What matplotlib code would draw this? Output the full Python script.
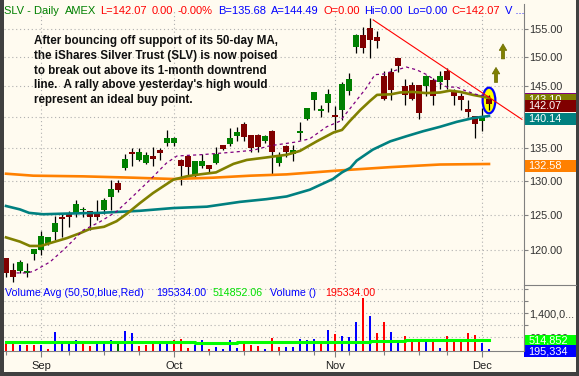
import numpy as np
import pandas as pd
import matplotlib
matplotlib.use('Agg')
import matplotlib.pyplot as plt
from matplotlib.transforms import ScaledTranslation, blended_transform_factory
from matplotlib.patches import Rectangle, Ellipse, Polygon
from matplotlib.lines import Line2D
from matplotlib.ticker import FixedLocator, NullLocator, FixedFormatter

plt.rcParams['font.family'] = ['Liberation Sans', 'DejaVu Sans']

# ---------------- data ----------------
dates = pd.bdate_range('2007-08-27', '2007-12-04', freq='C',
                       holidays=['2007-09-03', '2007-11-22'])

opens = [118.9, 117.3, 117.1, 116.9, 119.5, 120.0, 120.9, 122.5, 124.75, 125.1,
         125.3, 125.7, 125.5, 125.1, 125.7, 127.6, 129.7, 131.9, 134.5, 133.2,
         132.8, 133.8, 134.8, 135.8, 135.9, 133.2, 133.8, 130.7, 132.3, 132.35,
         132.8, 135.5, 135.7, 137.0, 138.9, 137.1, 137.1, 136.2, 137.8, 132.8,
         135.3, 134.1, 137.4, 139.6, 142.8, 140.9, 142.3, 140.3, 141.1, 144.3,
         151.8, 153.9, 155.1, 153.6, 146.8, 147.4, 149.9, 145.1, 145.3, 145.2,
         145.0, 146.1, 145.8, 147.6, 144.2, 143.4, 141.3, 140.1, 139.4, 142.9]
highs = [119.0, 118.2, 118.7, 118.2, 120.2, 122.7, 121.9, 124.8, 125.2, 125.5,
         127.2, 126.1, 125.6, 127.2, 127.4, 130.1, 130.1, 134.1, 135.0, 135.0,
         134.4, 135.2, 135.0, 137.9, 136.8, 133.3, 134.0, 133.1, 134.1, 132.4,
         135.2, 135.6, 138.2, 138.4, 139.1, 137.1, 137.2, 137.1, 137.9, 134.4,
         135.5, 135.5, 139.1, 141.4, 144.1, 141.95, 144.5, 141.8, 145.8, 147.2,
         154.0, 155.4, 157.0, 154.6, 147.6, 148.2, 149.9, 146.3, 145.8, 145.2,
         147.0, 146.4, 147.7, 148.2, 144.6, 143.9, 142.8, 140.1, 141.4, 143.6]
lows = [116.4, 115.7, 116.9, 116.4, 118.7, 119.3, 120.7, 121.4, 121.9, 123.2,
        124.75, 124.7, 122.9, 124.3, 125.2, 125.7, 128.4, 131.6, 132.2, 133.0,
        132.6, 132.2, 133.2, 135.3, 135.3, 129.4, 130.7, 130.6, 131.9, 131.2,
        132.6, 134.8, 135.3, 136.2, 136.2, 134.4, 134.5, 135.8, 130.9, 132.2,
        133.6, 133.0, 136.3, 139.5, 141.1, 140.0, 140.8, 137.9, 139.5, 143.6,
        150.7, 150.7, 149.8, 151.6, 142.8, 142.8, 147.4, 142.0, 142.8, 139.7,
        143.4, 142.0, 144.6, 144.6, 142.0, 141.1, 140.0, 136.7, 137.7, 141.1]
closes = [116.9, 116.4, 118.4, 117.2, 120.2, 122.0, 121.8, 123.8, 124.4, 124.75,
          126.6, 125.9, 124.7, 124.75, 127.2, 128.8, 128.6, 133.3, 134.1, 134.4,
          133.9, 133.3, 134.3, 136.6, 136.6, 132.2, 132.1, 133.05, 133.05, 131.8,
          134.1, 134.9, 136.7, 137.5, 136.8, 135.0, 135.2, 137.0, 134.5, 134.0,
          134.5, 134.8, 137.8, 141.4, 144.1, 141.3, 143.8, 139.9, 145.4, 146.3,
          153.9, 151.6, 153.0, 152.8, 142.9, 144.4, 148.5, 143.5, 142.9, 140.6,
          146.8, 143.4, 146.8, 146.1, 143.4, 142.8, 140.8, 138.9, 140.0, 142.07]

volumes = [474000, 396000, 341000, 341000, 341000, 341000, 207000, 775000, 474000, 419000,
           508000, 419000, 318000, 396000, 419000, 508000, 441000, 820000, 753000, 318000,
           329000, 363000, 419000, 419000, 508000, 541000, 240000, 341000, 508000, 218000,
           274000, 218000, 508000, 240000, 374000, 329000, 318000, 218000, 574000, 274000,
           274000, 285000, 530000, 508000, 530000, 441000, 842000, 708000, 641000, 597000,
           1109000, 1923000, 1310000, 742000, 1109000, 775000, 485000, 641000, 530000, 541000,
           474000, 441000, 240000, 641000, 441000, 441000, 742000, 675000, 407000, 195334]
vol_colors = list("rrbrrbrbbb" "brrbbbgbbr" "rrbbrrrbbr" "bbbbrrrbrr"
                  "bbbbbrbrbb" "brbrrbbrrr" "brbrrrrrbb")

avg_vol_idx = [0, 27, 33, 52, 57, 69]
avg_vol_val = [430000, 410000, 452000, 485000, 514852, 514852]

ma10_idx = [1.5, 2.9, 3.9, 6.3, 8.7, 11, 13.4, 15.8, 18.1, 20.6, 22.9, 24.4, 25.8, 27.7,
            30.1, 32.4, 35.3, 37.7, 41.5, 43.4, 45.8, 47.7, 49.6, 51.5, 52.7, 53.9, 55.3,
            57.2, 58.7, 60.1, 61.5, 63, 64.4, 65.6, 67.1, 69]
ma10_val = [116.9, 116.9, 117.1, 118.4, 120.5, 122.8, 124.0, 125.5, 127.7, 130.2, 132.7,
            133.8, 133.9, 134.0, 134.2, 134.4, 134.7, 135.4, 136.0, 136.5, 138.4, 139.3,
            142.0, 144.8, 147.0, 147.1, 147.6, 148.3, 147.8, 147.0, 145.9, 144.9, 144.9,
            144.3, 143.7, 143.3]
ma20_idx = [0, 2, 3.4, 5, 6.3, 8.7, 10.6, 12, 14, 15.8, 17.3, 19.1, 21, 23.9, 25.8, 27.7,
            30, 32.5, 34.4, 37.3, 40.1, 42, 44.4, 46.8, 48, 49.1, 50.6, 52, 53, 55, 56.3,
            58.1, 60, 62, 63.4, 64.9, 66.7, 69]
ma20_val = [121.8, 121.2, 120.6, 120.6, 121.0, 121.7, 122.4, 123.0, 123.3, 124.1, 125.2,
            126.7, 128.2, 130.2, 130.7, 131.0, 131.3, 132.6, 133.2, 133.6, 134.0, 134.6,
            136.1, 137.5, 137.9, 139.3, 141.1, 142.6, 143.6, 143.7, 144.0, 144.1, 143.9,
            144.0, 144.3, 144.1, 143.6, 143.1]
ma50_idx = [0, 2, 3.3, 5.3, 8.7, 13.4, 19.1, 23.9, 28.7, 33.4, 37.2, 40.1, 43.4, 46.7, 48,
            49.2, 50.1, 52.4, 54.9, 57.2, 59.6, 62, 64.4, 66.7, 69]
ma50_val = [126.3, 125.8, 125.3, 125.1, 125.2, 125.3, 125.6, 126.0, 126.2, 126.9, 127.3,
            127.7, 128.7, 130.3, 131.3, 132.0, 133.1, 134.8, 136.1, 136.9, 137.7, 138.4,
            139.2, 139.8, 140.14]
ma200_idx = [0, 3.9, 11, 18.1, 23.9, 29.6, 34.9, 40.1, 47.7, 54.9, 62, 69]
ma200_val = [131.1, 130.8, 130.7, 130.5, 130.3, 130.5, 130.8, 131.0, 131.6, 132.1, 132.5, 132.58]

trend_idx = [52.45, 73.7]
trend_val = [156.6, 139.6]

price_ticks = [120, 125, 130, 135, 140, 145, 150, 155]
price_tick_labels = ['120.00', '125.00', '130.00', '135.00', '', '145.00', '150.00', '155.00']
vol_ticks = [600000, 1000000, 1400000, 1800000, 2200000]
vol_tick_labels = ['600,000', '', '1,400,0...', '', '']

header = [("SLV - Daily", 'g'), ("AMEX", 'g'), ("L=142.07", 'r'), ("0.00", 'r'),
          ("-0.00%", 'r'), ("B=135.68", 'b'), ("A=144.49", 'b'), ("O=0.00", 'r'),
          ("Hi=0.00", 'b'), ("Lo=0.00", 'b'), ("C=142.07", 'r'), ("V ...", 'b')]
vol_header = [("Volume Avg (50,50,blue,Red)", 'b'), ("195334.00", 'b'),
              ("514852.06", 'lg'), ("Volume ()", 'b'), ("195334.00", 'r')]
note_lines = ["After bouncing off support of its 50-day MA,",
              "the iShares Silver Trust (SLV) is now poised",
              "to break out above its 1-month downtrend",
              "line.  A rally above yesterday's high would",
              "represent an ideal buy point."]

# ---------------- styling ----------------
BG = '#FFFBF0'
GRID = '#B0B0B0'
FRAME = '#404040'
AXC = '#808080'
CUP, CDN = '#008000', '#800000'
OLIVE, TEAL, ORANGE, PURPLE = '#808000', '#008080', '#FF8000', '#800080'
txtc = {'g': '#008000', 'r': '#FF0000', 'b': '#0000FF', 'lg': '#00E000'}
volc = {'r': '#FF0000', 'b': '#0000FF', 'g': '#007000'}

W, H = 579, 376
fig = plt.figure(figsize=(W / 100, H / 100), dpi=100, facecolor=BG)


def px_axes(x0, y0, x1, y1):
    return fig.add_axes([x0 / W, 1 - y1 / H, (x1 - x0) / W, (y1 - y0) / H])


ax = px_axes(4, 10, 524, 285)
axv = px_axes(4, 285, 524, 351)
n = len(closes)
idx = np.arange(n)
XL = (-0.286, 74.0)

# ---- price panel ----
ax.set_facecolor(BG)
ax.set_yscale('log')
for s in ax.spines.values():
    s.set_visible(False)
ax.yaxis.set_major_locator(FixedLocator(price_ticks))
ax.yaxis.set_major_formatter(FixedFormatter(price_tick_labels))
ax.yaxis.set_minor_locator(NullLocator())
ax.yaxis.set_minor_formatter(FixedFormatter([]))
ax.tick_params(axis='y', which='major', left=False, labelleft=False, right=True,
               labelright=True, length=3, width=0.8, color=AXC, labelsize=7.8,
               labelcolor='#303030', pad=0.8)
ax.tick_params(axis='x', bottom=False, labelbottom=False)
ax.grid(axis='y', color=GRID, linestyle=(0, (1, 2.5)), linewidth=0.8)

month_idx = [i for i in range(1, n) if dates[i].month != dates[i - 1].month]
week_idx = [0] + [i for i in range(1, n) if dates[i].weekday() < dates[i - 1].weekday()]
for m in month_idx:
    ax.axvline(m, color=GRID, linestyle=(0, (1, 2.5)), linewidth=0.8, zorder=0.5)
    axv.axvline(m, color=GRID, linestyle=(0, (1, 2.5)), linewidth=0.8, zorder=0.5)

# highlight ellipse on the last bar (behind candles)
last = n - 1
ctr = np.sqrt(highs[last] * lows[last])
etr = fig.dpi_scale_trans + ScaledTranslation(last, ctr, ax.transData)
ax.add_patch(Ellipse((0, 0.02), 0.127, 0.257, transform=etr, facecolor='#FFFF00',
                     edgecolor='#0000FF', linewidth=1.6, zorder=2.5, clip_on=False))

# candles
o = np.array(opens); c = np.array(closes); hi = np.array(highs); lo = np.array(lows)
up = c >= o
ax.vlines(idx, lo, hi, color='black', linewidth=0.9, zorder=2.9)
ax.bar(idx, np.abs(c - o), bottom=np.minimum(o, c), width=0.78,
       color=np.where(up, CUP, CDN), edgecolor='none', zorder=3)

# moving averages
ax.plot(ma200_idx, ma200_val, color=ORANGE, linewidth=1.9, zorder=4)
ax.plot(ma50_idx, ma50_val, color=TEAL, linewidth=1.9, zorder=4)
ax.plot(ma20_idx, ma20_val, color=OLIVE, linewidth=1.9, zorder=4)
ax.plot(ma10_idx, ma10_val, color=PURPLE, linewidth=0.9, linestyle=(0, (2.5, 2.5)), zorder=4)
ax.plot(trend_idx, trend_val, color='#FF0000', linewidth=0.8, zorder=5, clip_on=False)

# up arrows (pixel-sized) above the last bar
def up_arrow(xi, base_val, dy_px, color=OLIVE):
    tr = fig.dpi_scale_trans + ScaledTranslation(xi, base_val, ax.transData)
    pts = np.array([(-1.6, 0), (-1.6, 8.5), (-3.8, 8.5), (0, 15), (3.8, 8.5), (1.6, 8.5), (1.6, 0)])
    pts[:, 1] += dy_px
    ax.add_patch(Polygon(pts / 100.0, closed=True, transform=tr, facecolor=color,
                         edgecolor='#6A6A00', linewidth=0.5, zorder=6, clip_on=False))

up_arrow(last + 1, highs[last], 12.5)
up_arrow(last + 2, highs[last], 36)

ax.set_xlim(*XL)
ax.set_ylim(115.28, 158.4)

# note text
for k, line in enumerate(note_lines):
    fig.text(34 / W, 1 - (44 + 14.8 * k) / H, line, fontsize=8.4, fontweight='bold',
             color='#101010', ha='left', va='baseline')

# ---- volume panel ----
axv.set_facecolor(BG)
for s in ['top', 'left', 'right']:
    axv.spines[s].set_visible(False)
axv.spines['bottom'].set_color(AXC)
axv.spines['bottom'].set_linewidth(0.8)
axv.bar(idx, volumes, width=0.32, color=[volc[k] for k in vol_colors], zorder=3)
axv.plot(avg_vol_idx, avg_vol_val, drawstyle='steps-post', color='#00FF00',
         linewidth=2.2, zorder=4)
axv.set_xlim(*XL)
axv.set_ylim(140000, 2345850)
axv.yaxis.set_major_locator(FixedLocator(vol_ticks))
axv.yaxis.set_major_formatter(FixedFormatter(vol_tick_labels))
axv.tick_params(axis='y', left=False, labelleft=False, right=True, labelright=True,
                length=3, width=0.8, color=AXC, labelsize=7.8, labelcolor='#303030', pad=0.8)
axv.grid(axis='y', color=GRID, linestyle=(0, (1, 2.5)), linewidth=0.8)
axv.xaxis.set_major_locator(FixedLocator(month_idx))
axv.xaxis.set_major_formatter(FixedFormatter([dates[i].strftime('%b') for i in month_idx]))
axv.xaxis.set_minor_locator(FixedLocator(week_idx))
axv.tick_params(axis='x', which='major', length=4, width=0.8, color=AXC,
                labelsize=8, labelcolor='#202020', pad=3)
axv.tick_params(axis='x', which='minor', length=3, width=0.8, color=AXC)

# ---- value boxes on the right ----
def value_box(axis, value, text, color, z, dy=2.0, h=12.0):
    bt = blended_transform_factory(axis.transAxes, axis.transData)
    tr = fig.dpi_scale_trans + ScaledTranslation(1.0, value, bt)
    axis.add_patch(Rectangle((0, (-h / 2 - dy) / 100.0), 0.52, h / 100.0, transform=tr,
                             facecolor=color, edgecolor='none', clip_on=False, zorder=z))
    if text:
        axis.annotate(text, xy=(1.0, value), xycoords=bt, xytext=(4.5 * 0.72, -dy * 0.72),
                      textcoords='offset points', ha='left', va='center', color='white',
                      fontsize=7.8, zorder=z + 1, annotation_clip=False)

value_box(ax, ma10_val[-1], '', PURPLE, 10)
value_box(ax, ma20_val[-1], '%.2f' % ma20_val[-1], OLIVE, 12)
value_box(ax, closes[-1], '%.2f' % closes[-1], CDN, 14)
value_box(ax, ma50_val[-1], '%.2f' % ma50_val[-1], TEAL, 16, dy=3)
value_box(ax, ma200_val[-1], '%.2f' % ma200_val[-1], ORANGE, 18)
value_box(axv, avg_vol_val[-1], '{:,}'.format(avg_vol_val[-1]), '#00FF00', 10, dy=1, h=11)
value_box(axv, volumes[-1], '{:,}'.format(volumes[-1]), '#0000FF', 12, dy=2, h=12)

# ---- headers ----
hx = [4.4, 64.6, 99.7, 151.4, 178, 217.9, 271.4, 323.9, 363.7, 407.3, 451.6, 504.8]
for (t, col), x in zip(header, hx):
    fig.text(x / W, 1 - 14 / H, t, fontsize=8, color=txtc[col], ha='left', va='baseline')
vx = [5, 156, 212.3, 270.3, 325]
for (t, col), x in zip(vol_header, vx):
    fig.text(x / W, 1 - 296 / H, t, fontsize=7.7, color=txtc[col], ha='left', va='baseline')

# ---- frame and separators ----
fig.add_artist(Line2D([524 / W, 524 / W], [1 - 351 / H, 1 - 4 / H], color=AXC, linewidth=0.8))
fig.add_artist(Line2D([524 / W, 576 / W], [1 - 285 / H, 1 - 285 / H], color=AXC, linewidth=0.8))
for (x0, y0, w, h) in [(0, 0, 4, 376), (576, 0, 3, 376), (0, 372, 579, 4)]:
    fig.add_artist(Rectangle((x0 / W, 1 - (y0 + h) / H), w / W, h / H,
                             transform=fig.transFigure, facecolor=FRAME, edgecolor='none'))

fig.savefig('out.png', dpi=100, facecolor=BG)
